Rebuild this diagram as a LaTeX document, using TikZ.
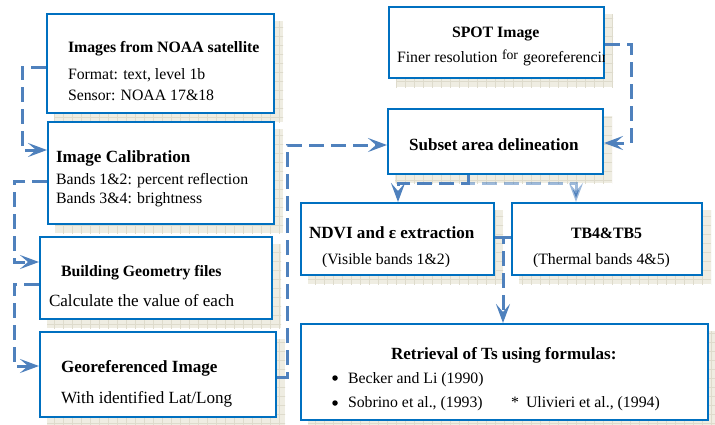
\documentclass[tikz,border=0pt]{standalone}
\usepackage{fontspec}
\setmainfont{Liberation Serif}
\usetikzlibrary{arrows.meta,calc,backgrounds}
\definecolor{boxblue}{RGB}{0,112,192}
\definecolor{connblue}{RGB}{79,129,189}
\definecolor{shfill}{RGB}{239,237,226}
\definecolor{shgrid}{RGB}{222,219,204}
\tikzset{
  box/.style={draw=boxblue,line width=2pt,fill=white,rectangle,inner sep=0pt},
  conn/.style={draw=connblue,line width=3pt,dash pattern=on 15pt off 7pt,
    -{Stealth[length=19pt,width=14pt,inset=8pt]}},
  faintconn/.style={conn,draw opacity=0.55},
  txt/.style={anchor=base west,inner sep=0pt,outer sep=0pt},
  hA/.style={txt,font=\fontsize{15.8}{19}\selectfont\bfseries},
  hB/.style={txt,font=\fontsize{17.1}{20}\selectfont\bfseries},
  tA/.style={txt,font=\fontsize{15.8}{19}\selectfont},
  tB/.style={txt,font=\fontsize{17.1}{20}\selectfont},
  tS/.style={txt,font=\fontsize{13.7}{16}\selectfont},
  bullet/.style={circle,fill=black,inner sep=0pt,minimum size=5.5pt},
}
\newcommand\shadowof[1]{%
  \begin{scope}
    \clip ($(#1.north west)+(8,8)$) rectangle ($(#1.south east)+(8,8)$);
    \fill[shfill] ($(#1.north west)+(8,8)$) rectangle ($(#1.south east)+(8,8)$);
    \draw[shgrid,line width=0.5pt] ($(#1.north west)+(0,0)$) grid[step=9pt] ($(#1.south east)+(16,16)$);
  \end{scope}}
\begin{document}
\begin{tikzpicture}[x=1pt,y=-1pt]
\useasboundingbox (0,0) rectangle (715,424);
% boxes
\node[box,minimum width=227pt,minimum height=99pt] (noaa) at (160.5,63.5) {};
\node[box,minimum width=226pt,minimum height=102pt] (calib) at (161,173) {};
\node[box,minimum width=232pt,minimum height=82pt] (geom) at (156,278) {};
\node[box,minimum width=236pt,minimum height=85pt] (georef) at (158,374.5) {};
\node[box,minimum width=215pt,minimum height=71pt] (spot) at (496.5,42.5) {};
\node[box,minimum width=215pt,minimum height=65pt] (subset) at (495.5,141.5) {};
\node[box,minimum width=193pt,minimum height=72pt] (ndvi) at (397.5,239) {};
\node[box,minimum width=190pt,minimum height=72pt] (tb) at (607,239) {};
\node[box,minimum width=407pt,minimum height=96pt] (ret) at (504.5,372) {};
% shadows and connectors behind boxes
\begin{pgfonlayer}{background}
\shadowof{noaa}\shadowof{calib}\shadowof{geom}\shadowof{georef}
\shadowof{spot}\shadowof{subset}\shadowof{ndvi}\shadowof{tb}\shadowof{ret}
\draw[conn] (noaa.west |- 0,67) -- (22,67) -- (22,150) -- (calib.west |- 0,150);
\draw[conn] (calib.west |- 0,181) -- (14,181) -- (14,262) -- (geom.west |- 0,262);
\draw[conn] (geom.west |- 0,284) -- (14,284) -- (14,366) -- (georef.west |- 0,366);
\draw[conn] (georef.east |- 0,377) -- (287,377) -- (287,145) -- (subset.west |- 0,145);
\draw[conn] (spot.east |- 0,44) -- (631,44) -- (631,143) -- (subset.east |- 0,143);
\draw[conn] (subset.south -| 468,0) -- (468,183) -- (398,183) -- (ndvi.north -| 398,0);
\draw[faintconn] (subset.south -| 468,0) -- (468,183) -- (576,183) -- (tb.north -| 576,0);
\draw[conn] (ndvi.east |- 0,237) -- (503,237) -- (ret.north -| 503,0);
\draw[conn,-] (tb.west |- 0,237) -- (503,237);
\end{pgfonlayer}
% texts
\node[hA] (noaaT) at (68,52) {Images from NOAA satellite};
\node[tA] (noaa1) at (68,79) {Format: text, level 1b};
\node[tA] (noaa2) at (68,100) {Sensor: NOAA 17\&18};
\node[hB] (calibT) at (56,162) {Image Calibration};
\node[tA] (calib1) at (56,184) {Bands 1\&2: percent reflection};
\node[tA] (calib2) at (56,203) {Bands 3\&4: brightness};
\node[hA] (geomT) at (61,276) {Building Geometry files};
\node[tB] (geom1) at (49,306) {Calculate the value of each};
\node[hB] (georefT) at (61,372) {Georeferenced Image};
\node[tB] (georef1) at (61,403) {With identified Lat/Long};
\node[hA] (spotT) at (452,37) {SPOT Image};
\begin{scope}
\clip (spot.north west) rectangle ([xshift=-1pt]spot.south east);
\node[tA] (spot1) at (397,62) {Finer resolution};
\node[tS] (spot2) at (502,59) {for};
\node[tA] (spot3) at (523,62) {georeferencing};
\end{scope}
\node[hB] (subsetT) at (409,150) {Subset area delineation};
\node[hB] (ndviT) at (309,238) {NDVI and ε extraction};
\node[hA] (tbT) at (571,238) {TB4\&TB5};
\begin{scope}
\clip (300,240) rectangle (710,266.5);
\node[tA] (ndvi1) at (322,264) {(Visible bands 1\&2)};
\node[tA] (tb1) at (533,264) {(Thermal bands 4\&5)};
\end{scope}
\node[hB] (retT) at (391,359) {Retrieval of Ts using formulas:};
\node[bullet] (b1) at (335,378) {};
\node[tA] (r1) at (348,383) {Becker and Li (1990)};
\node[bullet] (b2) at (335,403) {};
\node[tA] (r2) at (348,407) {Sobrino et al., (1993)};
\node[tA] (star) at (511,407) {*};
\node[tA] (r3) at (526,407) {Ulivieri et al., (1994)};
\end{tikzpicture}
\end{document}
